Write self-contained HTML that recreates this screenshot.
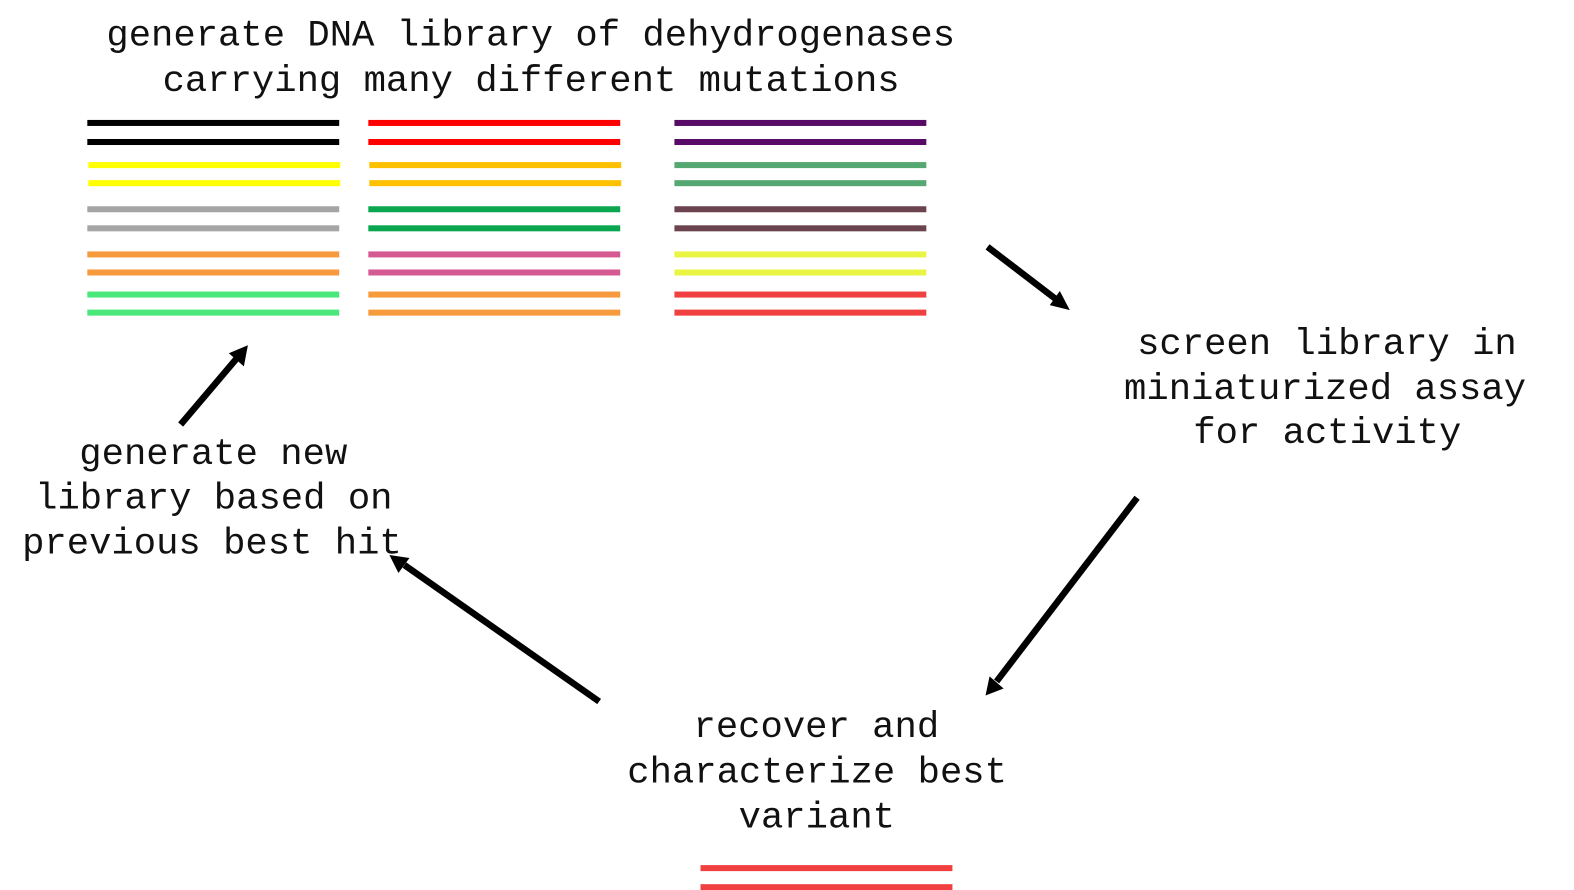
<!DOCTYPE html>
<html lang="en">
<head>
<meta charset="utf-8">
<title>Directed evolution cycle</title>
<style>
html,body{margin:0;padding:0;background:#fff;width:1574px;height:890px;overflow:hidden}
svg{display:block}
text{font-family:"Liberation Mono","Courier New",monospace;font-size:37.1px;fill:#111;white-space:pre}
</style>
</head>
<body>
<svg width="1574" height="890" viewBox="0 0 1574 890" xmlns="http://www.w3.org/2000/svg">
<rect width="1574" height="890" fill="#fff"/>
<g transform="scale(1.0036)">
<g>
<rect x="87" y="119.500" width="251" height="6" fill="#000"/>
<rect x="87" y="138.500" width="251" height="6" fill="#000"/>
<rect x="88" y="161.500" width="251" height="6" fill="#ffff00"/>
<rect x="88" y="179.500" width="251" height="6" fill="#ffff00"/>
<rect x="87" y="205.500" width="251" height="6" fill="#a5a5a5"/>
<rect x="87" y="224.500" width="251" height="6" fill="#a5a5a5"/>
<rect x="87" y="250.500" width="251" height="6" fill="#f79a3e"/>
<rect x="87" y="268.500" width="251" height="6" fill="#f79a3e"/>
<rect x="87" y="290.500" width="251" height="6" fill="#4ae87a"/>
<rect x="87" y="308.500" width="251" height="6" fill="#4ae87a"/>

<rect x="367" y="119.500" width="251" height="6" fill="#ff0000"/>
<rect x="367" y="138.500" width="251" height="6" fill="#ff0000"/>
<rect x="368" y="161.500" width="251" height="6" fill="#ffc000"/>
<rect x="368" y="179.500" width="251" height="6" fill="#ffc000"/>
<rect x="367" y="205.500" width="251" height="6" fill="#0aa650"/>
<rect x="367" y="224.500" width="251" height="6" fill="#0aa650"/>
<rect x="367" y="250.500" width="251" height="6" fill="#d65a92"/>
<rect x="367" y="268.500" width="251" height="6" fill="#d65a92"/>
<rect x="367" y="290.500" width="251" height="6" fill="#f79a3e"/>
<rect x="367" y="308.500" width="251" height="6" fill="#f79a3e"/>

<rect x="672" y="119.500" width="251" height="6" fill="#570a66"/>
<rect x="672" y="138.500" width="251" height="6" fill="#570a66"/>
<rect x="672" y="161.500" width="251" height="6" fill="#55a871"/>
<rect x="672" y="179.500" width="251" height="6" fill="#55a871"/>
<rect x="672" y="205.500" width="251" height="6" fill="#6b4450"/>
<rect x="672" y="224.500" width="251" height="6" fill="#6b4450"/>
<rect x="672" y="250.500" width="251" height="6" fill="#e9f542"/>
<rect x="672" y="268.500" width="251" height="6" fill="#e9f542"/>
<rect x="672" y="290.500" width="251" height="6" fill="#f04040"/>
<rect x="672" y="308.500" width="251" height="6" fill="#f04040"/>

<rect x="698" y="862" width="251" height="6" fill="#f04040"/>
<rect x="698" y="881" width="251" height="6" fill="#f04040"/>
</g>
<g stroke="#000" stroke-width="6.5" fill="none">
<line x1="984" y1="246" x2="1052" y2="298"/>
<line x1="1133" y1="496" x2="993" y2="679"/>
<line x1="597" y1="699" x2="403" y2="563"/>
<line x1="180" y1="423" x2="236" y2="357"/>
</g>
<g fill="#000">
<polygon points="1066,309 1046,304 1056,290"/>
<polygon points="982,693 986,674 1000,686"/>
<polygon points="388,553 408,556 397,571"/>
<polygon points="247,344 243,365 228,352"/>
</g>
<g>
<text x="106" y="45.500">generate DNA library of dehydrogenases</text>
<text x="162" y="90.500">carrying many different mutations</text>
<text x="1133" y="352.500">screen library in</text>
<text x="1120" y="397.500">miniaturized assay</text>
<text x="1189" y="441.500">for activity</text>
<text x="79" y="462.500">generate new</text>
<text x="35" y="506.500">library based on</text>
<text x="22" y="551.500">previous best hit</text>
<text x="691" y="734.500">recover and</text>
<text x="625" y="779.500">characterize best</text>
<text x="736" y="824.500">variant</text>
</g>
</g>
</svg>
</body>
</html>
